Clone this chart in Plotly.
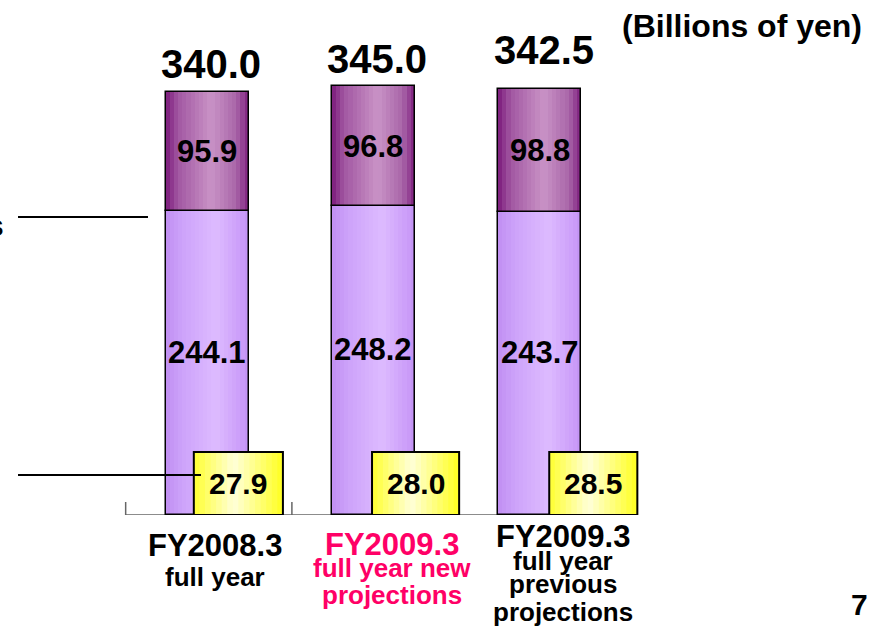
import plotly.graph_objects as go

# ---------------- data ----------------
categories = ["FY2008.3 full year", "FY2009.3 full year new projections", "FY2009.3 full year previous projections"]
lower_values = [244.1, 248.2, 243.7]
upper_values = [95.9, 96.8, 98.8]
totals = [340.0, 345.0, 342.5]
box_values = [27.9, 28.0, 28.5]
cat_main = ["FY2008.3", "FY2009.3", "FY2009.3"]
cat_sub = [["full year"], ["full year new", "projections"], ["full year", "previous", "projections"]]
unit_label = "(Billions of yen)"
page_number = "7"

# ---------------- styles ----------------
FONT = "Liberation Sans, Arial, sans-serif"
PINK = "#FF0066"
cat_colors = ["black", PINK, "black"]
BAR_W = 0.5
BAR_SHIFT = -0.01
N_SLICES = 20

purple_stops = [(0, "#7A1A7A"), (0.15, "#A257A2"), (0.55, "#C993C6"), (0.85, "#A966A9"), (1, "#7E1E7E")]
lavender_stops = [(0, "#C08FF2"), (0.2, "#CDA2FA"), (0.6, "#DDBBFF"), (0.9, "#CC9EF9"), (1, "#C292F4")]
yellow_stops = [(0, "#FFFF30"), (0.45, "#FFFFD8"), (1, "#FFFF20")]


def hex2rgb(h):
    h = h.lstrip("#")
    return tuple(int(h[i:i + 2], 16) for i in (0, 2, 4))


def grad(stops, t):
    for (p0, c0), (p1, c1) in zip(stops[:-1], stops[1:]):
        if p0 <= t <= p1:
            f = (t - p0) / (p1 - p0) if p1 > p0 else 0
            a, b = hex2rgb(c0), hex2rgb(c1)
            return "rgb(%d,%d,%d)" % tuple(round(a[k] + (b[k] - a[k]) * f) for k in range(3))
    return stops[-1][1]


xs = list(range(len(categories)))
upper_base = lower_values

fig = go.Figure()


def add_gradient_segment(values, bases, stops):
    sw = BAR_W / N_SLICES
    start = BAR_SHIFT - BAR_W / 2
    for i in range(N_SLICES):
        off = start + i * sw
        w = min(sw * 1.6, start + BAR_W - off)
        fig.add_trace(go.Bar(
            x=xs, y=values, base=bases, width=w, offset=off,
            marker=dict(color=grad(stops, (i + 0.5) / N_SLICES), line=dict(width=0)),
            showlegend=False, hoverinfo="skip"))
    fig.add_trace(go.Bar(
        x=xs, y=values, base=bases, width=BAR_W, offset=start,
        marker=dict(color="rgba(0,0,0,0)", line=dict(color="black", width=1.5)),
        showlegend=False, hoverinfo="skip"))


add_gradient_segment(lower_values, [0] * len(xs), lavender_stops)
add_gradient_segment(upper_values, upper_base, purple_stops)

annotations = []
# totals
total_yshift = [28, 27, 39]
for i, t in enumerate(totals):
    annotations.append(dict(x=xs[i] + BAR_SHIFT, y=t, xref="x", yref="y", text="<b>%.1f</b>" % t,
                            showarrow=False, yanchor="middle", yshift=total_yshift[i], xshift=4,
                            font=dict(family=FONT, size=40, color="black")))
# segment labels
for i in xs:
    annotations.append(dict(x=xs[i] + BAR_SHIFT, y=upper_base[i] + upper_values[i] / 2, xref="x", yref="y",
                            text="<b>%.1f</b>" % upper_values[i], showarrow=False, yanchor="middle",
                            font=dict(family=FONT, size=31, color="black")))
    annotations.append(dict(x=xs[i] + BAR_SHIFT, y=lower_values[i] / 2, xref="x", yref="y",
                            text="<b>%.1f</b>" % lower_values[i], showarrow=False, yanchor="middle",
                            yshift=11, font=dict(family=FONT, size=31, color="black")))

# yellow boxes (label boxes, fixed pixel height)
box_x = [(-0.090, 0.446), (-0.018, 0.506), (0.048, 0.578)]
BOX_H = 63
shapes = []
for i in xs:
    x0, x1 = xs[i] + box_x[i][0], xs[i] + box_x[i][1]
    n = 16
    sw = (x1 - x0) / n
    for k in range(n):
        a = x0 + k * sw
        b = min(a + sw * 1.6, x1)
        shapes.append(dict(type="rect", xref="x", yref="y", ysizemode="pixel", yanchor=0,
                           x0=a, x1=b, y0=0, y1=BOX_H, line=dict(width=0),
                           fillcolor=grad(yellow_stops, (k + 0.5) / n), layer="above"))
    shapes.append(dict(type="rect", xref="x", yref="y", ysizemode="pixel", yanchor=0,
                       x0=x0, x1=x1, y0=0, y1=BOX_H, line=dict(color="black", width=2),
                       fillcolor="rgba(0,0,0,0)", layer="above"))
    annotations.append(dict(x=(x0 + x1) / 2, y=0, xref="x", yref="y", text="<b>%.1f</b>" % box_values[i],
                            showarrow=False, yanchor="middle", yshift=BOX_H / 2,
                            font=dict(family=FONT, size=30, color="black")))

# baseline and category-boundary ticks
shapes.append(dict(type="line", xref="x", yref="y", x0=-0.5, x1=2.5, y0=0, y1=0,
                   line=dict(color="#666666", width=1.5), layer="below"))
for tv in [-0.5, 0.5, 1.5, 2.5]:
    shapes.append(dict(type="line", xref="x", yref="y", ysizemode="pixel", yanchor=0,
                       x0=tv, x1=tv, y0=0, y1=13, line=dict(color="#666666", width=1.5), layer="below"))
# leader lines
shapes.append(dict(type="line", xref="paper", yref="paper", x0=-0.2050, x1=0.0464, y0=0.6274, y1=0.6274,
                   line=dict(color="black", width=2)))
shapes.append(dict(type="line", xref="paper", yref="paper", x0=-0.2050, x1=0.1489, y0=0.0842, y1=0.0842,
                   line=dict(color="black", width=2)))

# category labels
main_yshift = [-30, -29, -21]
sub_yshift = [[-62], [-53, -80], [-46, -69, -97]]
cat_xshift = [6, 17, 22]
for i in xs:
    annotations.append(dict(x=xs[i], y=0, xref="x", yref="y", text="<b>%s</b>" % cat_main[i],
                            showarrow=False, yanchor="middle", yshift=main_yshift[i], xshift=cat_xshift[i],
                            font=dict(family=FONT, size=31, color=cat_colors[i])))
    for line, ys in zip(cat_sub[i], sub_yshift[i]):
        annotations.append(dict(x=xs[i], y=0, xref="x", yref="y", text="<b>%s</b>" % line,
                                showarrow=False, yanchor="middle", yshift=ys, xshift=cat_xshift[i],
                                font=dict(family=FONT, size=26, color=cat_colors[i])))

# unit label, page number, clipped legend text
annotations.append(dict(x=1.4313, y=1.0295, xref="paper", yref="paper", text="<b>%s</b>" % unit_label,
                        showarrow=False, xanchor="right", yanchor="middle",
                        font=dict(family=FONT, size=32, color="black")))
annotations.append(dict(x=1.4429, y=-0.1874, xref="paper", yref="paper", text="<b>%s</b>" % page_number,
                        showarrow=False, xanchor="right", yanchor="middle",
                        font=dict(family=FONT, size=30, color="black")))
annotations.append(dict(x=-0.2282, y=0.6105, xref="paper", yref="paper", text="<b>s</b>",
                        showarrow=False, xanchor="right", yanchor="middle",
                        font=dict(family=FONT, size=30, color="black")))

fig.update_layout(
    width=874, height=626,
    margin=dict(l=124, r=233, t=40, b=111),
    paper_bgcolor="white", plot_bgcolor="white",
    barmode="overlay", bargap=0,
    showlegend=False,
    shapes=shapes, annotations=annotations,
    xaxis=dict(range=[-0.51, 2.6], showgrid=False, zeroline=False, showline=False,
               showticklabels=False, ticks="", fixedrange=True),
    yaxis=dict(range=[0, 381.8], visible=False, fixedrange=True),
)

fig.write_html("out.html", config={"displayModeBar": False},
               post_script="document.body.style.margin='0';document.body.style.overflow='hidden';")
